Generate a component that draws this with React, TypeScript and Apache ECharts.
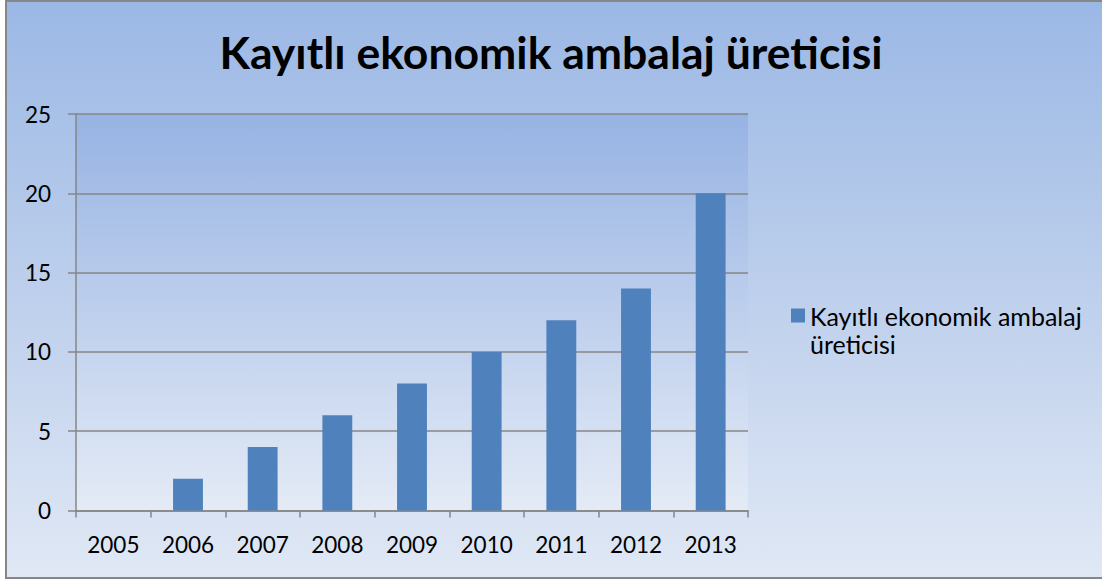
import React, { useEffect, useRef } from 'react';
import * as echarts from 'echarts';

const titleText = 'Kayıtlı ekonomik ambalaj üreticisi';
const seriesName = 'Kayıtlı ekonomik ambalaj üreticisi';
const legendLine1 = 'Kayıtlı ekonomik ambalaj';
const legendLine2 = 'üreticisi';
const categories = ['2005', '2006', '2007', '2008', '2009', '2010', '2011', '2012', '2013'];
const values = [0, 2, 4, 6, 8, 10, 12, 14, 20];
const yMin = 0;
const yMax = 25;
const yInterval = 5;

const FONT = 'Lato, "Noto Sans", sans-serif';
const GREY = '#868686';

export default function App() {
  const ref = useRef<HTMLDivElement>(null);
  useEffect(() => {
    document.body.style.margin = '0';
    document.body.style.overflow = 'hidden';
    const chart = echarts.init(ref.current!, null, { renderer: 'svg' });
    chart.setOption({
      animation: false,
      backgroundColor: 'transparent',
      title: {
        text: titleText,
        left: 'center',
        top: 24,
        textStyle: { fontFamily: FONT, fontSize: 44.5, fontWeight: 'bold', color: '#000' },
      },
      legend: {
        orient: 'vertical',
        left: 791,
        top: 303,
        padding: 0,
        itemWidth: 14,
        itemHeight: 14,
        icon: 'rect',
        selectedMode: false,
        formatter: () => legendLine1,
        textStyle: { fontFamily: FONT, fontSize: 25, color: '#000' },
        data: [seriesName],
      },
      graphic: [
        {
          type: 'text',
          left: 810,
          top: 331,
          silent: true,
          style: { text: legendLine2, font: `25px ${FONT}`, fill: '#000' },
        },
      ],
      grid: {
        left: 76,
        right: 354,
        top: 114,
        bottom: 68.5,
        show: true,
        borderWidth: 0,
        backgroundColor: new echarts.graphic.LinearGradient(0, 0, 0, 1, [
          { offset: 0, color: '#97b3e3' },
          { offset: 1, color: '#e4ebf6' },
        ]),
      },
      xAxis: {
        type: 'category',
        data: categories,
        boundaryGap: true,
        axisLine: { show: true, lineStyle: { color: GREY, width: 1.5 } },
        axisTick: { show: true, length: 7, alignWithLabel: false, lineStyle: { color: GREY, width: 1.5 } },
        axisLabel: { color: '#000', fontFamily: FONT, fontSize: 22.5, margin: 22 },
      },
      yAxis: {
        type: 'value',
        min: yMin,
        max: yMax,
        interval: yInterval,
        axisLine: { show: true, lineStyle: { color: GREY, width: 1.5 } },
        axisTick: { show: true, length: 8, lineStyle: { color: GREY, width: 1.5 } },
        splitLine: { show: true, lineStyle: { color: GREY, width: 1.5 } },
        axisLabel: { color: '#000', fontFamily: FONT, fontSize: 22.5, margin: 25 },
      },
      series: [
        {
          name: seriesName,
          type: 'bar',
          data: values,
          barWidth: '40%',
          itemStyle: { color: '#4f81bd' },
        },
      ],
    });
    return () => chart.dispose();
  }, []);
  return (
    <div style={{ position: 'fixed', left: 0, top: 0, width: 1102, height: 579, background: '#fff', overflow: 'hidden' }}>
      <div
        style={{
          position: 'absolute',
          left: 5,
          top: 0,
          width: 1097,
          height: 579,
          boxSizing: 'border-box',
          borderTop: `2px solid ${GREY}`,
          borderLeft: `2px solid ${GREY}`,
          borderBottom: `2px solid ${GREY}`,
          borderRight: 'none',
          background: 'linear-gradient(to bottom, #9bb8e5 0%, #bdcfec 50%, #e0e8f5 100%)',
        }}
      />
      <div ref={ref} style={{ position: 'absolute', left: 0, top: 0, width: 1102, height: 579 }} />
    </div>
  );
}
